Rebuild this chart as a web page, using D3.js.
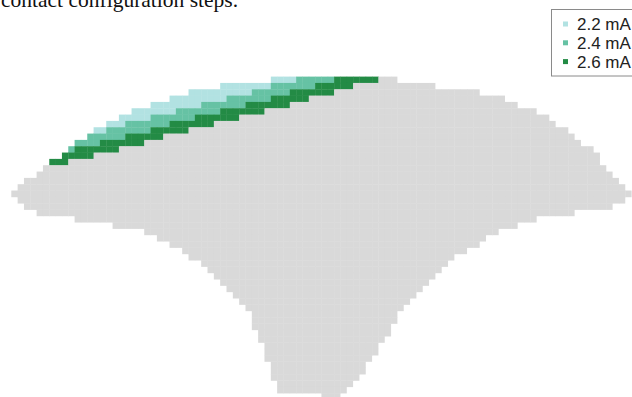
<!DOCTYPE html>
<html>
<head>
<meta charset="utf-8">
<script src="https://cdn.jsdelivr.net/npm/d3@7"></script>
<style>
  html, body { margin: 0; padding: 0; background: #fff; overflow: hidden; }
  svg { display: block; }
</style>
</head>
<body>
<svg id="chart" width="632" height="397"></svg>
<script>
// Region outline: for every grid row, the first and last column it covers.
const rowFirstCol = [41,33,28,25,22,19,17,15,13,12,10,9,8,6,5,4,2,1,0,1,2,4,10,16,21,23,25,27,28,30,31,32,33,34,35,36,37,38,38,38,39,39,40,40,40,41,41,41,42,42,49];
const rowLastCol  = [60,66,73,77,79,82,84,85,87,88,89,91,92,92,93,94,95,96,97,96,94,88,82,79,76,74,73,71,69,68,67,66,65,64,63,62,61,60,60,59,59,58,57,57,56,55,55,54,53,52,51];

// Activated volume per column (columns 6..57): deepest grid row reached at each current.
const firstActiveCol = 6;
const depth22 = [null,null,null,null,null,null,null,8,8,7,7,7,6,6,6,6,5,5,5,5,4,4,4,4,3,3,3,3,2,2,2,2,1,1,1,0,0,0,0,null,null,null,null,null,null,null,null,null,null,null,null,null];
const depth24 = [null,null,null,11,10,10,10,10,9,9,9,9,8,8,8,8,7,7,7,6,6,6,6,5,5,5,5,4,4,4,4,3,3,3,3,2,2,2,1,1,1,1,0,0,0,null,null,null,null,null,null,null];
const depth26 = [13,13,13,12,12,12,12,11,11,11,11,10,10,10,10,9,9,9,8,8,8,8,7,7,7,7,6,6,6,6,5,5,5,5,4,4,4,4,3,3,3,2,2,2,2,1,1,1,0,0,0,0];

// Legend entries
const levelLabels = ["2.2 mA", "2.4 mA", "2.6 mA"];
const levelColors = ["#b2e2e2", "#66c2a4", "#238b45"];
const baseColor = "#d9d9d9";
const captionText = "contact configuration steps.";

const nCols = 98, nRows = rowFirstCol.length;
const svg = d3.select("#chart");

const x = d3.scaleBand().domain(d3.range(nCols)).range([11.3, 631.6]).padding(0);
const y = d3.scaleBand().domain(d3.range(nRows)).range([76.6, 76.6 + 6.33 * nRows]).padding(0);
const depths = [depth22, depth24, depth26];
const bleed = 0.35; // slight overlap so neighbouring cells leave only a faint seam

function levelOf(r, c) {
  const i = c - firstActiveCol;
  if (i < 0 || i >= depth26.length) return -1;
  for (let k = 0; k < depths.length; k++) {
    const d = depths[k][i];
    if (d !== null && r <= d) return k;
  }
  return -1;
}

const cells = [];
rowFirstCol.forEach((c0, r) => {
  for (let c = c0; c <= rowLastCol[r]; c++) cells.push({ r, c, level: levelOf(r, c) });
});

svg.append("g")
  .selectAll("rect")
  .data(cells)
  .join("rect")
  .attr("x", d => x(d.c))
  .attr("y", d => y(d.r))
  .attr("width", d => x.bandwidth() + (d.c < rowLastCol[d.r] ? bleed : 0))
  .attr("height", d => y.bandwidth() + bleed)
  .attr("fill", d => d.level < 0 ? baseColor : levelColors[d.level]);

// Caption line above the grid
svg.append("text")
  .attr("x", 1)
  .attr("y", 7)
  .attr("font-family", "'Liberation Serif', 'Times New Roman', serif")
  .attr("font-size", 21.5)
  .attr("fill", "#111")
  .text(captionText);

// Legend
const legend = svg.append("g").attr("transform", "translate(551.5,9.5)");
legend.append("rect")
  .attr("width", 100).attr("height", 66.5)
  .attr("fill", "#fff").attr("stroke", "#8a8a8a").attr("stroke-width", 1);
const item = legend.selectAll("g.item")
  .data(levelLabels)
  .join("g")
  .attr("class", "item")
  .attr("transform", (d, i) => `translate(0,${14.5 + i * 18.8})`);
item.append("rect")
  .attr("x", 11.5).attr("y", -2.5).attr("width", 5).attr("height", 5)
  .attr("fill", (d, i) => levelColors[i]);
item.append("text")
  .attr("x", 25.5).attr("y", 0)
  .attr("dy", "0.36em")
  .attr("font-family", "'Liberation Sans', Arial, sans-serif")
  .attr("font-size", 17)
  .attr("fill", "#222")
  .text(d => d);
</script>
</body>
</html>
